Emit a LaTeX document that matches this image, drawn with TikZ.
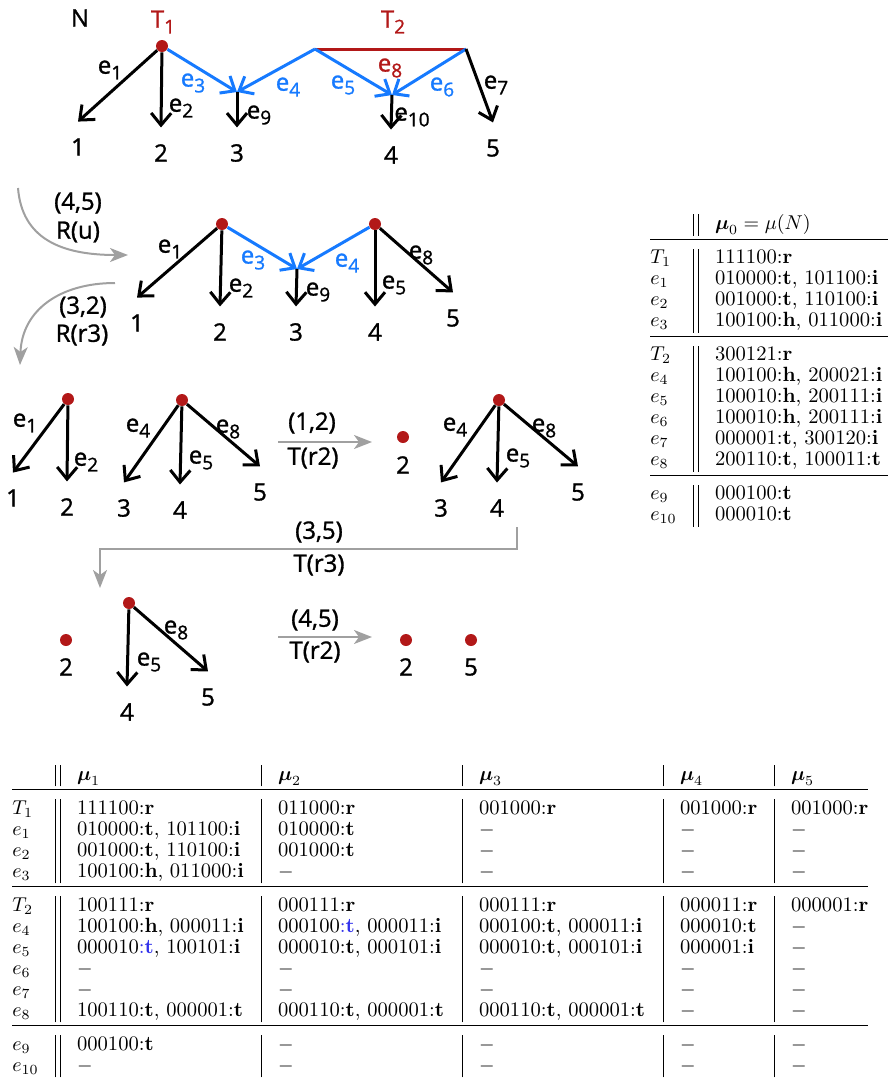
\documentclass[tikz,border=0pt]{standalone}
\usepackage{amsmath,amssymb}
\usepackage{booktabs}
\usepackage{fontspec}
\usetikzlibrary{arrows.meta}
\newfontfamily\sketchfont{Open Sans}[FakeBold=1.2]
\definecolor{nodered}{RGB}{178,24,24}
\definecolor{edgeblue}{RGB}{22,122,255}
\definecolor{movegray}{RGB}{160,160,160}
\definecolor{markblue}{RGB}{50,50,235}
\newcommand{\lowidx}[1]{\raisebox{-0.45ex}{\fontsize{9.5}{9.5}\selectfont #1}}
\newcommand{\mkv}[2]{#1:\textbf{#2}}
\newcommand{\mkvb}[2]{#1\textcolor{markblue}{:\textbf{#2}}}
\newcommand{\nix}{$-$}
\setlength{\tabcolsep}{8.5pt}
\setlength{\doublerulesep}{2.2pt}
\setlength{\aboverulesep}{1.5pt}
\setlength{\belowrulesep}{4.5pt}

\begin{document}
\begin{tikzpicture}[x=0.5pt,y=-0.5pt,>={Straight Barb[length=6pt,width=10pt]},
  dot/.style={circle,fill=nodered,inner sep=0pt,minimum size=6pt},
  leaf/.style={circle,inner sep=5pt,font={\sketchfont\fontsize{12}{14}\selectfont}},
  lab/.style={inner sep=0pt,font={\sketchfont\fontsize{12}{14}\selectfont}},
  tedge/.style={->,line width=1.5pt},
  bluearc/.style={tedge,color=edgeblue},
  trans/.style={-{Stealth[length=9pt,width=7pt,inset=2.5pt]},color=movegray,line width=1pt},
  tab/.style={inner sep=0pt,font={\fontsize{10.3}{10.5}\selectfont}}]
  \useasboundingbox (0,0) rectangle (888,1078);

  % the net N
  \node[lab] (N) at (80,18) {N};
  \node[lab,text=nodered] (T1) at (163,22) {T\lowidx{1}};
  \node[lab,text=nodered] (T2) at (393,22) {T\lowidx{2}};
  \node[dot] (r1) at (162,46) {};
  \coordinate (p2) at (315,49);
  \coordinate (q2) at (466,49);
  \coordinate (m3) at (237,92);
  \coordinate (m4) at (392,95);
  \node[leaf] (n1) at (78,147) {1};
  \node[leaf] (n2) at (161,153) {2};
  \node[leaf] (n3) at (237,153) {3};
  \node[leaf] (n4) at (391,155) {4};
  \node[leaf] (n5) at (493,148) {5};
  \draw[nodered,line width=1.5pt] (p2) -- (q2);
  \draw[tedge] (r1) -- (n1.north);
  \draw[tedge] (r1) -- (n2.north);
  \draw[bluearc] (r1) -- (m3);
  \draw[bluearc] (p2) -- (m3);
  \draw[bluearc] (p2) -- (m4);
  \draw[bluearc] (q2) -- (m4);
  \draw[tedge] (q2) -- (n5.north);
  \draw[tedge] (m3) -- (n3.north);
  \draw[tedge] (m4) -- (n4.north);
  \node[lab] (ne1) at (110,70) {e\lowidx{1}};
  \node[lab] (ne2) at (181,108) {e\lowidx{2}};
  \node[lab,text=edgeblue] (ne3) at (193,83) {e\lowidx{3}};
  \node[lab,text=edgeblue] (ne4) at (288,87) {e\lowidx{4}};
  \node[lab,text=edgeblue] (ne5) at (343,85) {e\lowidx{5}};
  \node[lab,text=edgeblue] (ne6) at (442,87) {e\lowidx{6}};
  \node[lab] (ne7) at (496,85) {e\lowidx{7}};
  \node[lab,text=nodered] (ne8) at (390,68) {e\lowidx{8}};
  \node[lab] (ne9) at (259,115) {e\lowidx{9}};
  \node[lab] (ne10) at (412,117) {e\lowidx{10}};

  % R(u)
  \coordinate (ru1) at (18,188);
  \coordinate (ru2) at (128,255);
  \draw[trans] (ru1) .. controls (22,238) and (60,255) .. (ru2);
  \node[lab] (ru45) at (78,203) {(4,5)};
  \node[lab] (rutxt) at (78,232) {R(u)};

  % after R(u)
  \node[dot] (a1) at (222,224) {};
  \node[dot] (a2) at (375,224) {};
  \coordinate (am) at (297,269);
  \node[leaf] (al1) at (137,323) {1};
  \node[leaf] (al2) at (220,332) {2};
  \node[leaf] (al3) at (296,332) {3};
  \node[leaf] (al4) at (375,332) {4};
  \node[leaf] (al5) at (453,318) {5};
  \draw[tedge] (a1) -- (al1.north);
  \draw[tedge] (a1) -- (al2.north);
  \draw[bluearc] (a1) -- (am);
  \draw[bluearc] (a2) -- (am);
  \draw[tedge] (am) -- (al3.north);
  \draw[tedge] (a2) -- (al4.north);
  \draw[tedge] (a2) -- (al5.north);
  \node[lab] (ae1) at (170,249) {e\lowidx{1}};
  \node[lab] (ae2) at (241,288) {e\lowidx{2}};
  \node[lab,text=edgeblue] (ae3) at (253,260) {e\lowidx{3}};
  \node[lab,text=edgeblue] (ae4) at (347,263) {e\lowidx{4}};
  \node[lab] (ae9) at (318,292) {e\lowidx{9}};
  \node[lab] (ae5) at (394,285) {e\lowidx{5}};
  \node[lab] (ae8) at (421,255) {e\lowidx{8}};

  % R(r3)
  \coordinate (rr1) at (115,283);
  \coordinate (rr2) at (20,365);
  \draw[trans] (rr1) .. controls (60,283) and (22,310) .. (rr2);
  \node[lab] (rr32) at (83,307) {(3,2)};
  \node[lab] (rrtxt) at (82,335) {R(r3)};

  % after R(r3)
  \node[dot] (b1) at (68,399) {};
  \node[leaf] (bl1) at (13,498) {1};
  \node[leaf] (bl2) at (67,507) {2};
  \draw[tedge] (b1) -- (bl1.north);
  \draw[tedge] (b1) -- (bl2.north);
  \node[lab] (be1) at (25,423) {e\lowidx{1}};
  \node[lab] (be2) at (86,462) {e\lowidx{2}};
  \node[dot] (b2) at (182,400) {};
  \node[leaf] (bl3) at (124,508) {3};
  \node[leaf] (bl4) at (180,510) {4};
  \node[leaf] (bl5) at (260,492) {5};
  \draw[tedge] (b2) -- (bl3.north);
  \draw[tedge] (b2) -- (bl4.north);
  \draw[tedge] (b2) -- (bl5.north);
  \node[lab] (be4) at (138,428) {e\lowidx{4}};
  \node[lab] (be5) at (201,460) {e\lowidx{5}};
  \node[lab] (be8) at (228,429) {e\lowidx{8}};

  % T(r2)
  \coordinate (tt1) at (278,442);
  \coordinate (tt2) at (372,442);
  \draw[trans] (tt1) -- (tt2);
  \node[lab] (tt12) at (312,423) {(1,2)};
  \node[lab] (tttxt) at (313,458) {T(r2)};

  % after T(r2)
  \node[dot] (c0) at (403,437) {};
  \node[lab] (cl2) at (403,465) {2};
  \begin{scope}[xshift=158.5pt]
    \node[dot] (c2) at (182,400) {};
    \node[leaf] (cl3) at (124,508) {3};
    \node[leaf] (cl4) at (180,508) {4};
    \node[leaf] (cl5) at (261,492) {5};
    \draw[tedge] (c2) -- (cl3.north);
    \draw[tedge] (c2) -- (cl4.north);
    \draw[tedge] (c2) -- (cl5.north);
    \node[lab] (ce4) at (138,427) {e\lowidx{4}};
    \node[lab] (ce5) at (201,458) {e\lowidx{5}};
    \node[lab] (ce8) at (227,428) {e\lowidx{8}};
  \end{scope}

  % T(r3)
  \coordinate (ts1) at (517,527);
  \coordinate (ts2) at (100,588);
  \draw[trans] (ts1) -- ++(0,22) -| (ts2);
  \node[lab] (ts35) at (319,532) {(3,5)};
  \node[lab] (tstxt) at (319,565) {T(r3)};

  % after T(r3)
  \node[dot] (d0) at (66,640) {};
  \node[lab] (dl2) at (66,667) {2};
  \node[dot] (d1) at (129,603) {};
  \node[leaf] (dl4) at (127,712) {4};
  \node[leaf] (dl5) at (208,697) {5};
  \draw[tedge] (d1) -- (dl4.north);
  \draw[tedge] (d1) -- (dl5.north);
  \node[lab] (de5) at (149,662) {e\lowidx{5}};
  \node[lab] (de8) at (176,630) {e\lowidx{8}};

  % T(r2) again
  \coordinate (tu1) at (278,637);
  \coordinate (tu2) at (372,637);
  \draw[trans] (tu1) -- (tu2);
  \node[lab] (tu45) at (315,620) {(4,5)};
  \node[lab] (tutxt) at (315,652) {T(r2)};
  \node[dot] (f1) at (406,640) {};
  \node[lab] (fl2) at (406,667) {2};
  \node[dot] (f2) at (471,640) {};
  \node[lab] (fl5) at (471,667) {5};

  % markings
  \node[tab,anchor=north west] (mu0) at (650,214) {%
    \begin{tabular}{@{}l||l@{\hspace{3pt}}}
      & $\boldsymbol{\mu}_0=\mu(N)$\\\midrule
      $T_1$ & \mkv{111100}{r}\\
      $e_1$ & \mkv{010000}{t}, \mkv{101100}{i}\\
      $e_2$ & \mkv{001000}{t}, \mkv{110100}{i}\\
      $e_3$ & \mkv{100100}{h}, \mkv{011000}{i}\\\midrule
      $T_2$ & \mkv{300121}{r}\\
      $e_4$ & \mkv{100100}{h}, \mkv{200021}{i}\\
      $e_5$ & \mkv{100010}{h}, \mkv{200111}{i}\\
      $e_6$ & \mkv{100010}{h}, \mkv{200111}{i}\\
      $e_7$ & \mkv{000001}{t}, \mkv{300120}{i}\\
      $e_8$ & \mkv{200110}{t}, \mkv{100011}{t}\\\midrule
      $e_9$ & \mkv{000100}{t}\\
      $e_{10}$ & \mkv{000010}{t}
    \end{tabular}};
  \node[tab,anchor=north west] (mus) at (12,765) {%
    \begin{tabular}{@{}l||p{83.5pt}|p{83.5pt}|p{83.5pt}|p{38.5pt}|l@{}}
      & $\boldsymbol{\mu}_1$ & $\boldsymbol{\mu}_2$ & $\boldsymbol{\mu}_3$ & $\boldsymbol{\mu}_4$ & $\boldsymbol{\mu}_5$\\\midrule
      $T_1$ & \mkv{111100}{r} & \mkv{011000}{r} & \mkv{001000}{r} & \mkv{001000}{r} & \mkv{001000}{r}\\
      $e_1$ & \mkv{010000}{t}, \mkv{101100}{i} & \mkv{010000}{t} & \nix & \nix & \nix\\
      $e_2$ & \mkv{001000}{t}, \mkv{110100}{i} & \mkv{001000}{t} & \nix & \nix & \nix\\
      $e_3$ & \mkv{100100}{h}, \mkv{011000}{i} & \nix & \nix & \nix & \nix\\\midrule
      $T_2$ & \mkv{100111}{r} & \mkv{000111}{r} & \mkv{000111}{r} & \mkv{000011}{r} & \mkv{000001}{r}\\
      $e_4$ & \mkv{100100}{h}, \mkv{000011}{i} & \mkvb{000100}{t}, \mkv{000011}{i} & \mkv{000100}{t}, \mkv{000011}{i} & \mkv{000010}{t} & \nix\\
      $e_5$ & \mkvb{000010}{t}, \mkv{100101}{i} & \mkv{000010}{t}, \mkv{000101}{i} & \mkv{000010}{t}, \mkv{000101}{i} & \mkv{000001}{i} & \nix\\
      $e_6$ & \nix & \nix & \nix & \nix & \nix\\
      $e_7$ & \nix & \nix & \nix & \nix & \nix\\
      $e_8$ & \mkv{100110}{t}, \mkv{000001}{t} & \mkv{000110}{t}, \mkv{000001}{t} & \mkv{000110}{t}, \mkv{000001}{t} & \nix & \nix\\\midrule
      $e_9$ & \mkv{000100}{t} & \nix & \nix & \nix & \nix\\
      $e_{10}$ & \nix & \nix & \nix & \nix & \nix
    \end{tabular}};
\end{tikzpicture}
\end{document}
